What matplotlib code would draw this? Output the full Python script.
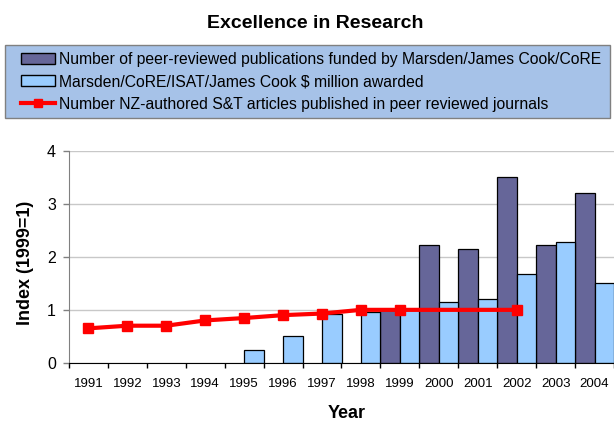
import numpy as np
import matplotlib.pyplot as plt
from matplotlib.patches import Patch, Rectangle
from matplotlib.lines import Line2D

plt.rcParams['font.family'] = ['Liberation Sans', 'DejaVu Sans']

years = ['1991', '1992', '1993', '1994', '1995', '1996', '1997',
         '1998', '1999', '2000', '2001', '2002', '2003', '2004']
nan = np.nan
publications = [nan, nan, nan, nan, nan, nan, nan, nan, 1.0, 2.22, 2.15, 3.51, 2.22, 3.22]
funding = [nan, nan, nan, nan, 0.24, 0.51, 0.93, 0.95, 1.0, 1.14, 1.21, 1.68, 2.29, 1.50]
articles = [0.65, 0.70, 0.70, 0.80, 0.845, 0.90, 0.93, 1.0, 1.0, nan, nan, 1.0, nan, nan]

lab_pub = 'Number of peer-reviewed publications funded by Marsden/James Cook/CoRE'
lab_fund = 'Marsden/CoRE/ISAT/James Cook $ million awarded'
lab_art = 'Number NZ-authored S&T articles published in peer reviewed journals'

c_pub = '#666699'
c_fund = '#99CCFF'
c_red = '#FF0000'

W, H = 614, 421
fig = plt.figure(figsize=(W / 100, H / 100), dpi=100)
# plot area runs off the right edge, like the source
ax = fig.add_axes([69 / W, (H - 362.7) / H, (W - 69) / W, (362.7 - 151.3) / H])

x = np.arange(len(years))
ax.bar(x - 0.25, publications, width=0.5, color=c_pub, edgecolor='black', linewidth=0.9, zorder=2)
ax.bar(x + 0.25, funding, width=0.5, color=c_fund, edgecolor='black', linewidth=0.9, zorder=2)

art = np.array(articles)
ok = ~np.isnan(art)
ax.plot(x[ok], art[ok], color=c_red, linewidth=3, marker='s', markersize=6.5, zorder=3)

ax.set_ylim(0, 4)
ax.set_xlim(-0.5, -0.5 + (W - 69) / 39.77)
ax.set_yticks([0, 1, 2, 3, 4])
ax.set_yticklabels(['0', '1', '2', '3', '4'], fontsize=11.5)
ax.yaxis.grid(True, color='#C8C8C8', linewidth=1)
ax.set_axisbelow(True)

ax.set_xticks(np.arange(len(years) + 1) - 0.5)
ax.set_xticklabels([])
ax.set_xticks(x, minor=True)
ax.set_xticklabels(years, minor=True, fontsize=9.5)
ax.tick_params(axis='x', which='major', length=3.6, width=1, direction='out', color='black')
ax.tick_params(axis='x', which='minor', length=0, pad=11)
ax.tick_params(axis='y', length=4.3, width=1, color='#808080', pad=5)

for s in ['top', 'right']:
    ax.spines[s].set_visible(False)
ax.spines['left'].set_color('#808080')
ax.spines['bottom'].set_color('black')

ax.set_ylabel('Index (1999=1)', fontsize=13, fontweight='bold')
ax.yaxis.set_label_coords((25 - 69) / (W - 69), 0.47)
ax.yaxis.label.set_verticalalignment('center')
ax.set_xlabel('Year', fontsize=13, fontweight='bold')
ax.xaxis.set_label_coords((347 - 69) / (W - 69), (362.7 - 414) / (362.7 - 151.3))
ax.xaxis.label.set_verticalalignment('center')

fig.text(315 / W, 1 - 23 / H, 'Excellence in Research', ha='center', va='center',
         fontsize=14, fontweight='bold')

# legend box
fig.patches.append(Rectangle((5 / W, 1 - 118 / H), 605 / W, 73 / H, transform=fig.transFigure,
                             facecolor='#A6C2E8', edgecolor='#808080', linewidth=1, zorder=0))
handles = [Patch(facecolor=c_pub, edgecolor='black', linewidth=1),
           Patch(facecolor=c_fund, edgecolor='black', linewidth=1),
           Line2D([], [], color=c_red, linewidth=3, marker='s', markersize=6)]
fig.legend(handles, [lab_pub, lab_fund, lab_art], loc='upper left',
           bbox_to_anchor=(21 / W, 1 - 52 / H), frameon=False, fontsize=11.35,
           borderpad=0, borderaxespad=0, handlelength=2.15, handletextpad=0.25,
           labelspacing=0.46)

fig.savefig('out.png', dpi=100)
